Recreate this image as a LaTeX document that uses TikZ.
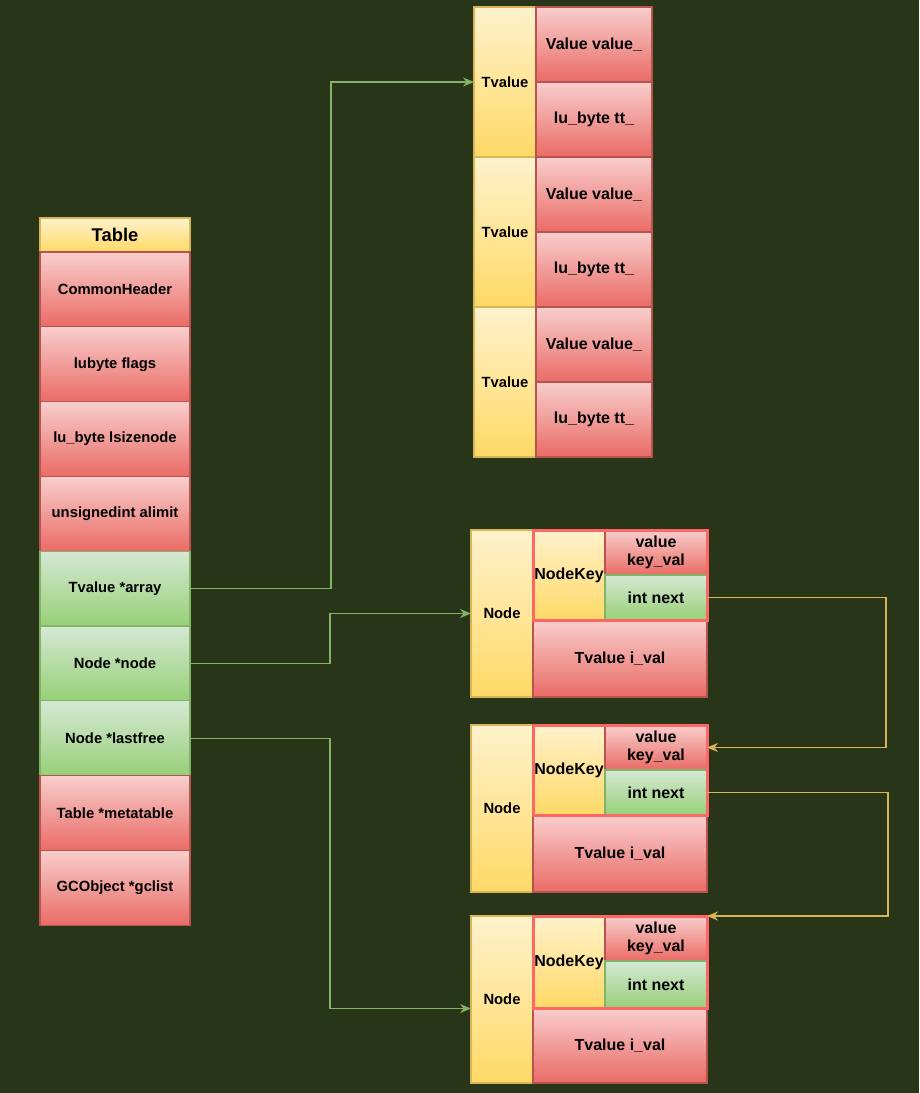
\documentclass[tikz,border=0pt]{standalone}
\usepackage{fontspec}
\setmainfont{Liberation Sans}
\usetikzlibrary{positioning, arrows.meta}

\definecolor{bgdark}{RGB}{41,53,25}
\definecolor{redtop}{HTML}{F8CECC}
\definecolor{redbot}{HTML}{EA6B66}
\definecolor{redline}{HTML}{B85450}
\definecolor{yeltop}{HTML}{FFF2CC}
\definecolor{yelbot}{HTML}{FFD966}
\definecolor{yelline}{HTML}{D6B656}
\definecolor{grntop}{HTML}{D5E8D4}
\definecolor{grnbot}{HTML}{97D077}
\definecolor{grnline}{HTML}{82B366}
\definecolor{keyline}{HTML}{FF6666}

\begin{document}
\begin{tikzpicture}[
  x=1pt, y=-1pt, node distance=0pt,
  >={Stealth[length=11pt, width=9pt]},
  cell/.style    = {rectangle, line width=1.3pt, inner sep=0pt, outer sep=0pt, align=center,
                    font=\fontsize{14.8}{17}\selectfont\bfseries},
  redcell/.style = {cell, draw=redline, top color=redtop, bottom color=redbot},
  yelcell/.style = {cell, draw=yelline, top color=yeltop, bottom color=yelbot},
  grncell/.style = {cell, draw=grnline, top color=grntop, bottom color=grnbot},
  bigtxt/.style  = {font=\fontsize{16}{18}\selectfont\bfseries},
  row/.style     = {minimum width=150pt, minimum height=74.8pt},
  half/.style    = {bigtxt, minimum width=116pt, minimum height=75pt},
  keycell/.style = {bigtxt, minimum width=102pt, minimum height=45pt},
  keyframe/.style= {draw=keyline, line width=3pt},
  ptrgrn/.style  = {draw=grnline, line width=1.3pt},
  ptryel/.style  = {draw=yelline, line width=1.3pt},
]
  \fill[bgdark] (0,0) rectangle (919,1093);

  % ---- Table struct ----
  \node[yelcell, row, minimum height=34pt, anchor=north west,
        font=\fontsize{18.4}{20}\selectfont\bfseries] (tbl) at (40,218) {Table};
  \node[redcell, row, below=of tbl]  (hdr)   {CommonHeader};
  \node[redcell, row, below=of hdr]  (flags) {lubyte flags};
  \node[redcell, row, below=of flags](lsz)   {lu\_byte lsizenode};
  \node[redcell, row, below=of lsz]  (alim)  {unsignedint alimit};
  \node[grncell, row, below=of alim] (arr)   {Tvalue *array};
  \node[grncell, row, below=of arr]  (nodep) {Node *node};
  \node[grncell, row, below=of nodep](lfree) {Node *lastfree};
  \node[redcell, row, below=of lfree](meta)  {Table *metatable};
  \node[redcell, row, below=of meta] (gcl)   {GCObject *gclist};

  % ---- Tvalue array ----
  \node[yelcell, minimum width=62pt, minimum height=150pt, anchor=north west] (tv1) at (474,7) {Tvalue};
  \node[yelcell, minimum width=62pt, minimum height=150pt, below=of tv1] (tv2) {Tvalue};
  \node[yelcell, minimum width=62pt, minimum height=150pt, below=of tv2] (tv3) {Tvalue};
  \node[redcell, half, anchor=north west] (tvv1) at (tv1.north east) {Value value\_};
  \node[redcell, half, below=of tvv1] (tvt1) {lu\_byte tt\_};
  \node[redcell, half, below=of tvt1] (tvv2) {Value value\_};
  \node[redcell, half, below=of tvv2] (tvt2) {lu\_byte tt\_};
  \node[redcell, half, below=of tvt2] (tvv3) {Value value\_};
  \node[redcell, half, below=of tvv3] (tvt3) {lu\_byte tt\_};

  % ---- Node array ----
  \node[yelcell, minimum width=62pt, minimum height=167pt, anchor=north west] (nd1) at (471,530) {Node};
  \node[yelcell, minimum width=72pt, minimum height=90pt, anchor=north west, bigtxt] (nk1) at (nd1.north east) {NodeKey};
  \node[redcell, keycell, anchor=north west] (val1) at (nk1.north east) {value\\key\_val};
  \node[grncell, keycell, below=of val1] (nx1) {int next};
  \node[redcell, bigtxt, minimum width=174pt, minimum height=77pt, anchor=north west] (iv1) at (nk1.south west) {Tvalue i\_val};
  \draw[keyframe] (nk1.north west) rectangle (nx1.south east);

  \node[yelcell, minimum width=62pt, minimum height=167pt, anchor=north west] (nd2) at (471,725) {Node};
  \node[yelcell, minimum width=72pt, minimum height=90pt, anchor=north west, bigtxt] (nk2) at (nd2.north east) {NodeKey};
  \node[redcell, keycell, anchor=north west] (val2) at (nk2.north east) {value\\key\_val};
  \node[grncell, keycell, below=of val2] (nx2) {int next};
  \node[redcell, bigtxt, minimum width=174pt, minimum height=77pt, anchor=north west] (iv2) at (nk2.south west) {Tvalue i\_val};
  \draw[keyframe] (nk2.north west) rectangle (nx2.south east);

  \node[yelcell, minimum width=62pt, minimum height=167pt, anchor=north west] (nd3) at (471,916) {Node};
  \node[yelcell, minimum width=72pt, minimum height=92pt, anchor=north west, bigtxt] (nk3) at (nd3.north east) {NodeKey};
  \node[redcell, keycell, anchor=north west] (val3) at (nk3.north east) {value\\key\_val};
  \node[grncell, keycell, minimum height=47pt, below=of val3] (nx3) {int next};
  \node[redcell, bigtxt, minimum width=174pt, minimum height=75pt, anchor=north west] (iv3) at (nk3.south west) {Tvalue i\_val};
  \draw[keyframe] (nk3.north west) rectangle (nx3.south east);

  % ---- pointers ----
  \draw[ptrgrn, ->] (arr.east)   -- ++(141,0) |- (tv1.west);
  \draw[ptrgrn, ->] (nodep.east) -- ++(140,0) |- (nd1.west);
  \draw[ptrgrn, ->] (lfree.east) -- ++(140,0) |- ([yshift=-9pt]nd3.west);

  \draw[ptryel, ->] (nx1.east) -- ++(179,0) |- (val2.east);
  \draw[ptryel, ->] (nx2.east) -- ++(181,0) |- (val3.north east);
\end{tikzpicture}
\end{document}
